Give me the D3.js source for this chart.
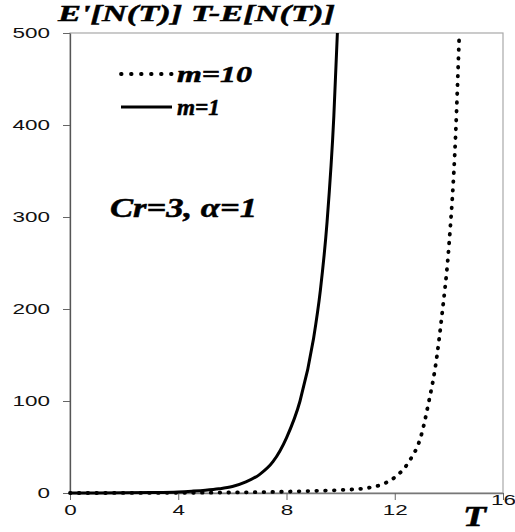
<!DOCTYPE html>
<html><head><meta charset="utf-8">
<script src="https://cdn.jsdelivr.net/npm/d3@7"></script>
<style>body{margin:0;background:#fff} svg{display:block}
.ser{font-family:"Liberation Serif","DejaVu Serif";font-weight:bold;font-style:italic;stroke:#000;stroke-width:0.5px}
.san{font-family:"Liberation Sans",Arial,sans-serif}
</style>
</head><body>
<svg id="c" width="515" height="532"></svg>
<script>
// m=1 series (solid)
const m1T = [0, 1, 2, 3, 4, 4.5, 5, 5.5, 6, 6.5, 7, 7.5, 8, 8.5, 9, 9.25, 9.5, 9.75, 9.88];
const m1V = [0, 0.1, 0.2, 0.5, 1.2, 2, 3, 4.5, 7, 12, 20, 34, 60, 100, 168, 220, 295, 410, 500];
// m=10 series (dotted)
const m10T = [0, 2, 4, 6, 8, 9, 10, 10.5, 11, 11.5, 12, 12.5, 13, 13.25, 13.5, 13.75, 14, 14.25, 14.38];
const m10V = [0, 0.05, 0.2, 0.6, 1.5, 2.3, 3.2, 4, 5.5, 9, 17, 33, 65, 98, 137, 195, 268, 390, 495];

const xTicks = [0, 4, 8, 12, 16];
const yTicks = [0, 100, 200, 300, 400, 500];
const legendLabels = ["m=10", "m=1"];
const titleText = "E'[N(T)] T-E[N(T)]";
const annotationText = "Cr=3, \u03b1=1";
const xLabelText = "T";

const svg = d3.select("#c");
const L = 70, R = 503, TOP = 33, B = 493;
const x = d3.scaleLinear().domain([0, 16]).range([L, R]);
const y = d3.scaleLinear().domain([0, 500]).range([B, TOP]);
const SX = 1.55;

// frame
svg.append("rect").attr("x", L).attr("y", TOP).attr("width", R - L).attr("height", B - TOP)
  .attr("fill", "none").attr("stroke", "#a8a8a8").attr("stroke-width", 1.2);

// y axis
const gy = svg.append("g").attr("transform", `translate(${L},0)`)
  .call(d3.axisLeft(y).tickValues(yTicks).tickSize(7).tickSizeOuter(0).tickFormat(d3.format("d")));
gy.attr("font-family", null).attr("font-size", null);
gy.select(".domain").attr("stroke", "#555").attr("stroke-width", 1.3);
gy.selectAll(".tick line").attr("stroke", "#666");
gy.selectAll(".tick text").attr("x", -20 / SX).attr("transform", `scale(${SX},1)`)
  .attr("class", "san").style("font-size", "14.5px").attr("fill", "#111");

// x axis
const gx = svg.append("g").attr("transform", `translate(0,${B})`)
  .call(d3.axisBottom(x).tickValues(xTicks).tickSize(7).tickSizeOuter(0).tickPadding(5));
gx.attr("font-family", null).attr("font-size", null);
gx.select(".domain").attr("stroke", "#777").attr("stroke-width", 1.3);
gx.selectAll(".tick line").attr("stroke", "#666");
gx.selectAll(".tick text").attr("transform", `scale(${SX},1)`)
  .attr("class", "san").style("font-size", "14.5px").attr("fill", "#111")
  .filter(d => d === 16).attr("y", 2);

// lines
const line = d3.line().x(d => x(d[0])).y(d => y(d[1])).curve(d3.curveMonotoneX);
svg.append("path").datum(d3.zip(m10T, m10V)).attr("d", line)
  .attr("fill", "none").attr("stroke", "#000").attr("stroke-width", 3.8)
  .attr("stroke-linecap", "round").attr("stroke-dasharray", "0.6,8.2");
svg.append("path").datum(d3.zip(m1T, m1V)).attr("d", line)
  .attr("fill", "none").attr("stroke", "#000").attr("stroke-width", 3);

// title
svg.append("text").attr("class", "ser").attr("x", 58).attr("y", 21).text(titleText)
  .style("font-size", "24px").attr("textLength", 277).attr("lengthAdjust", "spacingAndGlyphs");

// legend
const legY = [74, 107];
const legLen = [75, 43];
legendLabels.forEach((lab, i) => {
  svg.append("line").attr("x1", 121).attr("x2", 172).attr("y1", legY[i]).attr("y2", legY[i])
    .attr("stroke", "#000").attr("stroke-width", i === 0 ? 3.8 : 3)
    .attr("stroke-linecap", i === 0 ? "round" : "butt")
    .attr("stroke-dasharray", i === 0 ? "0.6,9.4" : null);
  svg.append("text").attr("class", "ser").attr("x", 177).attr("y", legY[i] + 8).text(lab)
    .style("font-size", "23px").attr("textLength", legLen[i]).attr("lengthAdjust", "spacingAndGlyphs");
});

// annotation
svg.append("text").attr("class", "ser").attr("x", 110).attr("y", 217).text(annotationText)
  .style("font-size", "27px").attr("textLength", 147).attr("lengthAdjust", "spacingAndGlyphs");

// x label
svg.append("text").attr("class", "ser").attr("x", 463).attr("y", 526).text(xLabelText)
  .style("font-size", "29px").attr("textLength", 23).attr("lengthAdjust", "spacingAndGlyphs");
</script>
</body></html>
